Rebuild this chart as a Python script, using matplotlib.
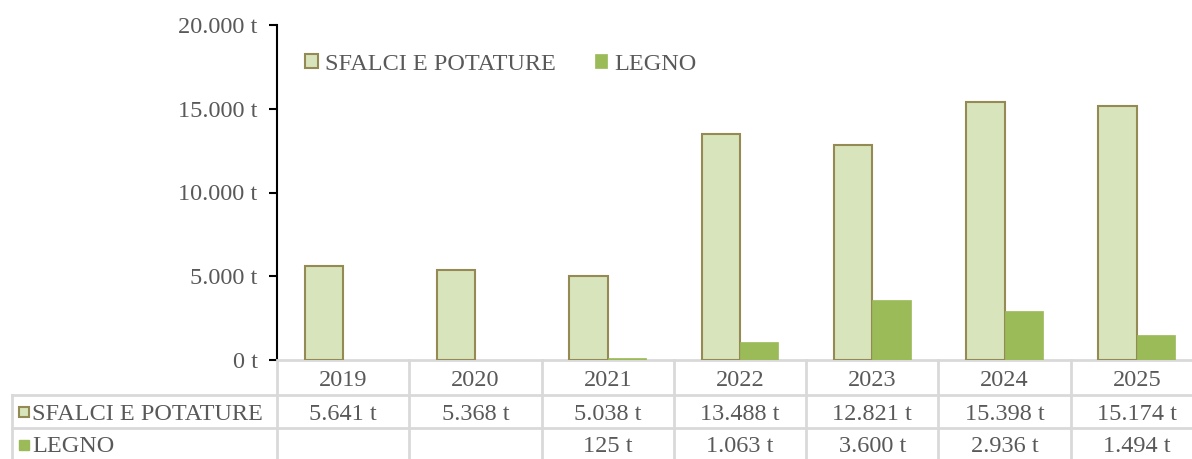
import numpy as np
import matplotlib
matplotlib.use("Agg")
import matplotlib.pyplot as plt
from matplotlib.ticker import FuncFormatter
import matplotlib.transforms as mtransforms

plt.rcParams["font.family"] = ["Liberation Serif", "DejaVu Serif"]

anni = ["2019", "2020", "2021", "2022", "2023", "2024", "2025"]
sfalci = [5641, 5368, 5038, 13488, 12821, 15398, 15174]
legno = [0, 0, 125, 1063, 3600, 2936, 1494]
legno_label = ["", "", "125 t", "1.063 t", "3.600 t", "2.936 t", "1.494 t"]
serie = ["SFALCI E POTATURE", "LEGNO"]

grigio = "#595959"
linee = "#D9D9D9"
c_sfalci = "#D8E4BC"
c_bordo = "#948A54"
c_legno = "#9BBB59"
fs = 17.5

def fmt_t(v):
    return "{:,.0f} t".format(v).replace(",", ".")

fig = plt.figure(figsize=(11.92, 4.59), dpi=100)
ax = fig.add_axes([277/1192, 1-360/459, (1203-277)/1192, 335/459])

x = np.arange(len(anni))
w = 0.29
ax.bar(x - w/2, sfalci, w, color=c_sfalci, edgecolor=c_bordo, linewidth=1.5, label=serie[0], zorder=3)
ax.bar(x + w/2, legno, w, color=c_legno, edgecolor=c_legno, linewidth=0.5, label=serie[1], zorder=3)

ax.set_xlim(-0.5, len(anni) - 0.5)
ax.set_ylim(0, 20000)
ax.set_yticks(np.arange(0, 20001, 5000))
ax.yaxis.set_major_formatter(FuncFormatter(lambda v, p: fmt_t(v)))
ax.tick_params(axis="y", labelsize=fs, labelcolor=grigio, length=6, width=1.5, pad=8)
ax.set_xticks([])
for s in ["top", "right"]:
    ax.spines[s].set_visible(False)
ax.spines["left"].set_linewidth(1.5)
ax.spines["bottom"].set_color(linee)
ax.spines["bottom"].set_linewidth(2)

leg = ax.legend(loc="upper left", bbox_to_anchor=(0.007, 0.98), ncol=2, frameon=False,
                fontsize=fs, handlelength=0.5, handleheight=0.5, handletextpad=0.3,
                columnspacing=1.6, labelcolor=grigio)

# tabella dati sotto il grafico
tr = mtransforms.blended_transform_factory(ax.transData, ax.transAxes)
r1, r2, r3 = -35/335, -68/335, -101/335
xl = -0.5 - (277 - 12) / 132.3
for i in range(len(anni) + 1):
    ax.plot([i - 0.5, i - 0.5], [0, r3], color=linee, lw=2, transform=tr, clip_on=False)
ax.plot([xl, xl], [r1, r3], color=linee, lw=2, transform=tr, clip_on=False)
for yy in [r1, r2, r3]:
    ax.plot([xl, len(anni) - 0.5], [yy, yy], color=linee, lw=2, transform=tr, clip_on=False)

for i, a in enumerate(anni):
    ax.text(i, r1/2, a, ha="center", va="center_baseline", fontsize=fs, color=grigio, transform=tr)
    ax.text(i, (r1+r2)/2, fmt_t(sfalci[i]), ha="center", va="center_baseline", fontsize=fs, color=grigio, transform=tr)
    ax.text(i, (r2+r3)/2, legno_label[i], ha="center", va="center_baseline", fontsize=fs, color=grigio, transform=tr)

xm = xl + 12/132.3
xt = xl + 20/132.3
ax.plot([xm], [(r1+r2)/2], marker="s", ms=7.5, mfc=c_sfalci, mec=c_bordo, mew=1.5, transform=tr, clip_on=False)
ax.text(xt, (r1+r2)/2, serie[0], ha="left", va="center_baseline", fontsize=fs, color=grigio, transform=tr)
ax.plot([xm], [(r2+r3)/2], marker="s", ms=7.5, mfc=c_legno, mec=c_legno, transform=tr, clip_on=False)
ax.text(xt, (r2+r3)/2, serie[1], ha="left", va="center_baseline", fontsize=fs, color=grigio, transform=tr)

fig.savefig("out.png", dpi=100)
